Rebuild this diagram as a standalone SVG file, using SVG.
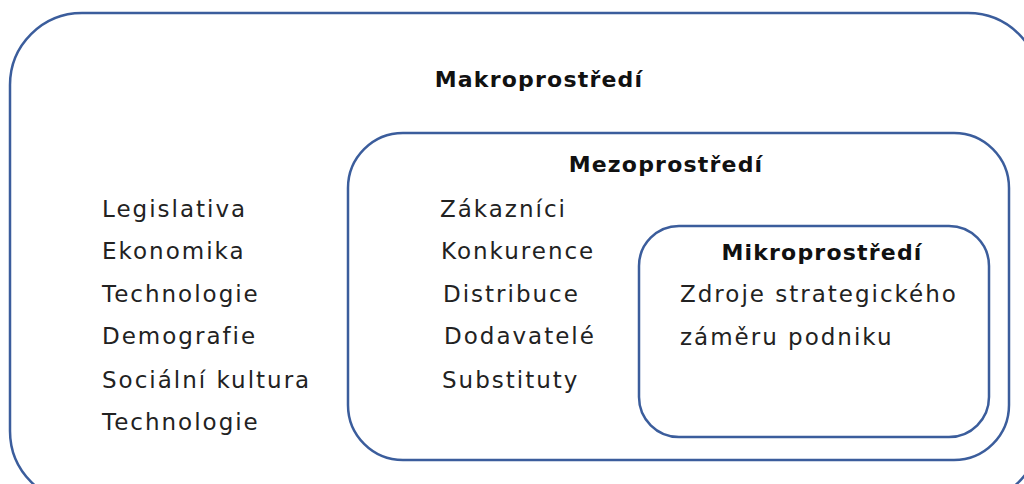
<svg xmlns="http://www.w3.org/2000/svg" width="1024" height="484" viewBox="0 0 1024 484">
<style>
.box{fill:none;stroke:#3b5d9c;stroke-width:2.5}
.t{font-family:"DejaVu Sans",Verdana,sans-serif;font-size:23px;letter-spacing:2px;fill:#222}
.h{font-family:"DejaVu Sans",Verdana,sans-serif;font-size:22px;font-weight:bold;letter-spacing:1.2px;fill:#111;text-anchor:middle}
</style>
<rect width="1024" height="484" fill="#fff"/>
<g id="makro">
<rect class="box" x="10" y="13" width="1030" height="490" rx="72" ry="72"/>
<text class="h" x="539" y="87">Makroprostředí</text>
<text class="t" x="102" y="217">Legislativa</text>
<text class="t" x="102" y="259">Ekonomika</text>
<text class="t" x="102" y="302">Technologie</text>
<text class="t" x="102" y="344">Demografie</text>
<text class="t" x="102" y="388">Sociální kultura</text>
<text class="t" x="102" y="430">Technologie</text>
</g>
<g id="mezo">
<rect class="box" x="348" y="133" width="661" height="327" rx="55" ry="55"/>
<text class="h" x="666" y="172">Mezoprostředí</text>
<text class="t" x="440" y="217">Zákazníci</text>
<text class="t" x="441" y="259">Konkurence</text>
<text class="t" x="443" y="302">Distribuce</text>
<text class="t" x="444" y="344">Dodavatelé</text>
<text class="t" x="442" y="388">Substituty</text>
</g>
<g id="mikro">
<rect class="box" x="639" y="226" width="350" height="211" rx="40" ry="40"/>
<text class="h" x="822" y="260">Mikroprostředí</text>
<text class="t" x="680" y="302">Zdroje strategického</text>
<text class="t" x="680" y="345">záměru podniku</text>
</g>
<g id="connectors"/>
</svg>
